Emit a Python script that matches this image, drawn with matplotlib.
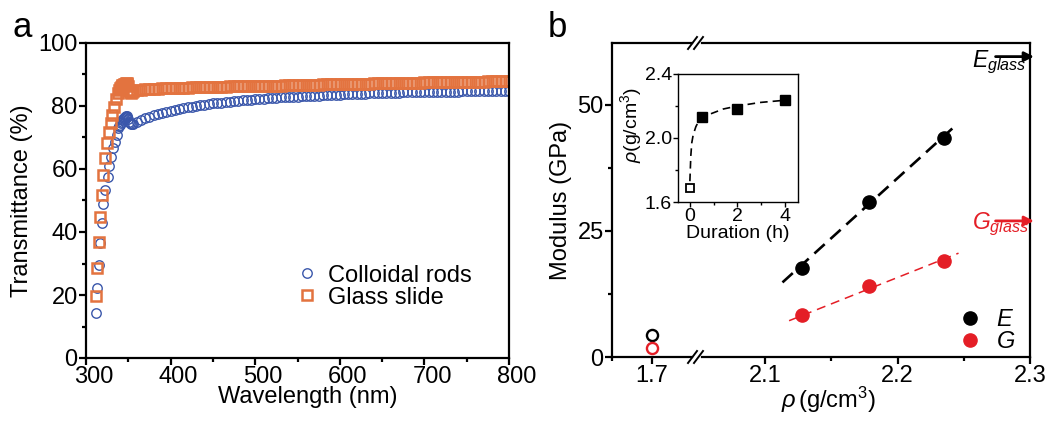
import matplotlib
matplotlib.use('Agg')
import matplotlib.pyplot as plt
from matplotlib.lines import Line2D
from matplotlib.ticker import FixedLocator, MultipleLocator
from matplotlib.transforms import ScaledTranslation

plt.rcParams['font.family'] = ['Liberation Sans', 'DejaVu Sans']
plt.rcParams['mathtext.fontset'] = 'custom'
plt.rcParams['mathtext.rm'] = 'Liberation Sans'
plt.rcParams['mathtext.it'] = 'Liberation Sans:italic'
plt.rcParams['mathtext.bf'] = 'Liberation Sans:bold'
plt.rcParams['lines.scale_dashes'] = False

BLUE = '#3a57ab'
ORANGE = '#e3733f'
RED = '#e41e26'

# ---- panel a: transmittance spectra ----
# steep edge, read point by point
rods_edge_wl = [311.4, 312.6, 315.4, 316.5, 318.5, 320.5, 322.5, 325.6, 327.2, 329.6,
                332.3, 334.3, 336.3, 338.2, 339, 340, 341, 342, 343, 344, 345, 346,
                347, 348, 349, 350, 351, 352, 353, 354]
rods_edge_t = [14.2, 22.1, 29.5, 36.6, 43.0, 48.9, 53.3, 57.6, 61.0, 63.9,
               66.6, 68.7, 70.8, 72.9, 73.5, 74.1, 74.6, 75.0, 75.5, 75.9, 76.3, 76.6,
               76.8, 76.9, 76.6, 75.8, 75.0, 74.5, 74.2, 74.2]
glass_edge_wl = [311.4, 313.4, 315.4, 316.5, 319.3, 320.5, 322.5, 324.8, 327.2, 329.6,
                 331.1, 333.5, 335.1, 337.5, 339, 340, 341, 342, 343, 344, 345, 346,
                 347, 348, 349, 350, 351, 352, 353, 354]
glass_edge_t = [19.7, 28.5, 36.7, 44.9, 51.7, 58.1, 63.6, 68.2, 71.8, 74.5,
                77.1, 79.8, 82.1, 84.0, 85.0, 85.6, 86.0, 86.3, 86.6, 86.8, 87.0, 87.1,
                87.2, 87.2, 87.0, 86.3, 85.2, 84.4, 84.2, 84.5]

# plateau, read every 5 nm
plateau_wl = [355, 360, 365, 370, 375, 380, 385, 390, 395, 400,
              405, 410, 415, 420, 425, 430, 435, 440, 445, 450,
              455, 460, 465, 470, 475, 480, 485, 490, 495, 500,
              505, 510, 515, 520, 525, 530, 535, 540, 545, 550,
              555, 560, 565, 570, 575, 580, 585, 590, 595, 600,
              605, 610, 615, 620, 625, 630, 635, 640, 645, 650,
              655, 660, 665, 670, 675, 680, 685, 690, 695, 700,
              705, 710, 715, 720, 725, 730, 735, 740, 745, 750,
              755, 760, 765, 770, 775, 780, 785, 790, 795, 800]
rods_plateau_t = [74.4, 75.0, 75.6, 76.1, 76.6, 77.0, 77.4, 77.8, 78.2, 78.5,
                  78.8, 79.1, 79.3, 79.6, 79.8, 80.0, 80.2, 80.4, 80.6, 80.8,
                  80.9, 81.1, 81.2, 81.4, 81.5, 81.6, 81.8, 81.9, 82.0, 82.1,
                  82.2, 82.3, 82.4, 82.5, 82.6, 82.7, 82.8, 82.8, 82.9, 83.0,
                  83.1, 83.1, 83.2, 83.3, 83.3, 83.4, 83.5, 83.5, 83.6, 83.6,
                  83.7, 83.7, 83.8, 83.8, 83.9, 83.9, 84.0, 84.0, 84.0, 84.1,
                  84.1, 84.2, 84.2, 84.2, 84.3, 84.3, 84.3, 84.4, 84.4, 84.4,
                  84.5, 84.5, 84.5, 84.5, 84.6, 84.6, 84.6, 84.6, 84.7, 84.7,
                  84.7, 84.7, 84.8, 84.8, 84.8, 84.8, 84.9, 84.9, 84.9, 84.9]
glass_plateau_t = [84.8, 85.1, 85.2, 85.3, 85.4, 85.5, 85.5, 85.6, 85.6, 85.7,
                   85.7, 85.8, 85.8, 85.8, 85.9, 85.9, 85.9, 86.0, 86.0, 86.0,
                   86.1, 86.1, 86.1, 86.2, 86.2, 86.2, 86.3, 86.3, 86.3, 86.4,
                   86.4, 86.4, 86.5, 86.5, 86.5, 86.5, 86.6, 86.6, 86.6, 86.7,
                   86.7, 86.7, 86.8, 86.8, 86.8, 86.9, 86.9, 86.9, 86.9, 87.0,
                   87.0, 87.0, 87.0, 87.1, 87.1, 87.1, 87.1, 87.2, 87.2, 87.2,
                   87.2, 87.3, 87.3, 87.3, 87.3, 87.4, 87.4, 87.4, 87.4, 87.5,
                   87.5, 87.5, 87.5, 87.5, 87.6, 87.6, 87.6, 87.6, 87.6, 87.7,
                   87.7, 87.7, 87.7, 87.7, 87.8, 87.8, 87.8, 87.8, 87.8, 87.9]

# ---- panel b: modulus vs density ----
rho_porous = [1.7]
E_porous = [4.4]
G_porous = [1.8]
rho_dense = [2.128, 2.178, 2.235]
E_dense = [17.6, 30.8, 43.5]
G_dense = [8.3, 14.0, 19.1]
E_fit_x = [2.113, 2.242]
E_fit_y = [14.8, 45.5]
G_fit_x = [2.118, 2.246]
G_fit_y = [7.2, 20.6]
E_glass = 59.6
G_glass = 27.0

# inset: density vs annealing duration
dur_open = [0]
rho_open = [1.69]
dur_filled = [0.5, 2, 4]
rho_filled = [2.13, 2.18, 2.24]
dur_curve = [0, 0.04, 0.08, 0.14, 0.25, 0.35, 0.5, 0.84, 1.4, 2.0, 2.95, 4.0]
rho_curve = [1.73, 1.89, 1.97, 2.02, 2.07, 2.10, 2.125, 2.149, 2.181, 2.200, 2.222, 2.236]

W, H = 1056, 421
fig = plt.figure(figsize=(W / 100, H / 100), dpi=100)


def px_axes(l, t, r, b):
    return fig.add_axes([l / W, 1 - b / H, (r - l) / W, (b - t) / H])


def style(ax, size, lw=1.6, major=5, minor=3):
    ax.tick_params(which='both', direction='out', top=False, right=False,
                   labelsize=size, width=lw, pad=1)
    ax.tick_params(which='major', length=major)
    ax.tick_params(which='minor', length=minor)
    for s in ax.spines.values():
        s.set_linewidth(lw)


# ---------- panel a ----------
ax = px_axes(86, 43, 509, 358)
ax.plot(rods_edge_wl + plateau_wl, rods_edge_t + rods_plateau_t, 'o', mfc='none',
        mec=BLUE, ms=6.8, mew=1.0, label='Colloidal rods')
ax.plot(glass_edge_wl + plateau_wl, glass_edge_t + glass_plateau_t, 's', mfc='none',
        mec=ORANGE, ms=6.5, mew=1.8, label='Glass slide')
ax.set_xlim(300, 800)
ax.set_ylim(0, 100)
ax.xaxis.set_major_locator(MultipleLocator(100))
ax.xaxis.set_minor_locator(MultipleLocator(50))
ax.yaxis.set_major_locator(MultipleLocator(20))
ax.yaxis.set_minor_locator(MultipleLocator(10))
style(ax, 17)
for lab in ax.get_xticklabels():
    lab.set_transform(lab.get_transform() + ScaledTranslation(0.08, 0, fig.dpi_scale_trans))
ax.set_xlabel('Wavelength (nm)', fontsize=17, labelpad=2)
ax.xaxis.set_label_coords(0.525, -0.09)
ax.set_ylabel('Transmittance (%)', fontsize=17, labelpad=4)
ax.legend(loc='upper left', bbox_to_anchor=(0.494, 0.296), frameon=False, fontsize=17,
          handlelength=1.0, handletextpad=0.42, borderpad=0, borderaxespad=0,
          labelspacing=0.0)

# ---------- panel b ----------
axl = px_axes(612, 43, 692, 357)
axr = px_axes(702, 43, 1030, 357)
for a in (axl, axr):
    a.set_ylim(0, 62.3)
style(axl, 17)
style(axr, 17)
axl.spines['right'].set_visible(False)
axr.spines['left'].set_visible(False)
axl.set_xlim(1.65, 1.7508)
axr.set_xlim(2.0522, 2.3)
axl.xaxis.set_major_locator(FixedLocator([1.7]))
axl.xaxis.set_minor_locator(FixedLocator([1.65]))
axl.yaxis.set_major_locator(FixedLocator([0, 25, 50]))
axl.yaxis.set_minor_locator(FixedLocator([12.5, 37.5]))
axr.xaxis.set_major_locator(FixedLocator([2.1, 2.2, 2.3]))
axr.xaxis.set_minor_locator(FixedLocator([2.15, 2.25]))
axr.tick_params(axis='y', which='both', left=False, labelleft=False)
axl.set_ylabel('Modulus (GPa)', fontsize=17, labelpad=4)
axr.set_xlabel(r'$\rho\,$(g/cm$^3$)', fontsize=17)
axr.xaxis.set_label_coords(0.385, -0.09)

axl.plot(rho_porous, E_porous, 'o', mfc='none', mec='black', ms=8, mew=1.7, clip_on=False)
axl.plot(rho_porous, G_porous, 'o', mfc='none', mec=RED, ms=8, mew=1.7, clip_on=False)

axr.plot(E_fit_x, E_fit_y, color='black', lw=1.9, dashes=(10, 5.5))
axr.plot(G_fit_x, G_fit_y, color=RED, lw=1.1, dashes=(6.5, 4.3))
axr.plot(rho_dense, E_dense, 'o', color='black', ms=9.5, zorder=3)
axr.plot(rho_dense, G_dense, 'o', color=RED, ms=9.5, zorder=3)

for val, col, lab, base in ((E_glass, 'black', r'$E_{glass}$', 57.6),
                            (G_glass, RED, r'$G_{glass}$', 25.4)):
    axr.annotate('', xy=(1.012, val), xytext=(0.895, val),
                 xycoords=('axes fraction', 'data'), textcoords=('axes fraction', 'data'),
                 arrowprops=dict(arrowstyle='-|>', color=col, lw=2, mutation_scale=14,
                                 shrinkA=0, shrinkB=0), annotation_clip=False)
    axr.text(2.2565, base, lab, color=col, fontsize=16.5, va='baseline', ha='left')

handles = [Line2D([], [], marker='o', ls='none', color='black', ms=9.5),
           Line2D([], [], marker='o', ls='none', color=RED, ms=9.5)]
axr.legend(handles, ['$E$', '$G$'], loc='upper left', bbox_to_anchor=(0.78, 0.152),
           frameon=False, fontsize=17, handlelength=1.0, handletextpad=0.6,
           borderpad=0, borderaxespad=0, labelspacing=0.0)

# axis break marks
for py in (43, 357):
    for dx in (0, 6):
        x0, x1 = 688 + dx, 697 + dx
        fig.add_artist(Line2D([x0 / W, x1 / W], [1 - (py + 6) / H, 1 - (py - 6) / H],
                              color='black', lw=1.4))

# inset
axi = px_axes(678, 74, 798, 202)
axi.plot(dur_curve, rho_curve, color='black', lw=1.2, dashes=(5.5, 3.6))
axi.plot(dur_open, rho_open, 's', mfc='white', mec='black', ms=6, mew=1.3, zorder=3)
axi.plot(dur_filled, rho_filled, 's', color='black', ms=7, zorder=3)
axi.set_xlim(-0.5, 4.55)
axi.set_ylim(1.6, 2.4)
axi.xaxis.set_major_locator(FixedLocator([0, 2, 4]))
axi.xaxis.set_minor_locator(FixedLocator([1, 3]))
axi.yaxis.set_major_locator(FixedLocator([1.6, 2.0, 2.4]))
axi.yaxis.set_minor_locator(FixedLocator([1.8, 2.2]))
style(axi, 14, lw=1.0, major=3.5, minor=2)
axi.yaxis.set_major_formatter(plt.FormatStrFormatter('%.1f'))
axi.set_xlabel('Duration (h)', fontsize=14, labelpad=0)
axi.set_ylabel(r'$\rho$(g/cm$^3$)', fontsize=14, labelpad=1)
axi.yaxis.set_label_coords(-0.28, 0.6)

fig.text(12 / W, 1 - 37 / H, 'a', fontsize=25, va='baseline')
fig.text(548 / W, 1 - 37 / H, 'b', fontsize=25, va='baseline')

fig.savefig('out.png', dpi=100)
